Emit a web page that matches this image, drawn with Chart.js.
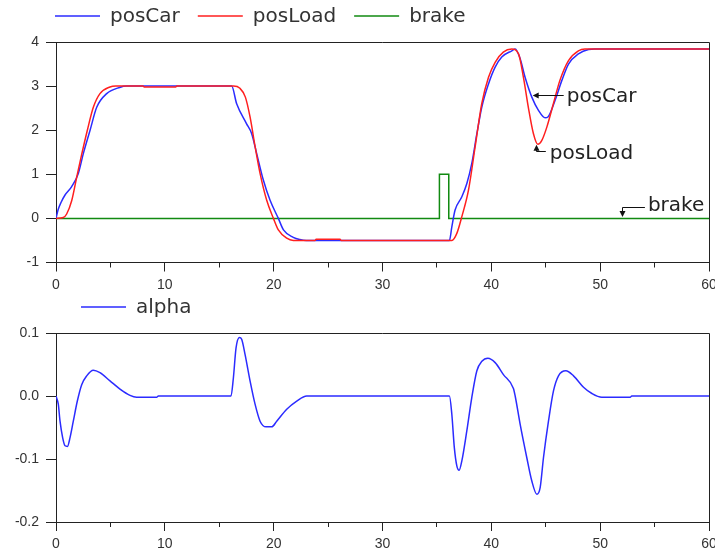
<!DOCTYPE html>
<html><head><meta charset="utf-8">
<script src="https://cdn.jsdelivr.net/npm/chart.js@4"></script>
<style>
html,body{margin:0;padding:0;background:#fff;overflow:hidden}
canvas{position:absolute;left:0;display:block}
#c1{top:0}
#c2{top:293px}
</style></head><body>
<canvas id="c1" width="715" height="293" style="width:715px;height:293px"></canvas>
<canvas id="c2" width="715" height="264" style="width:715px;height:264px"></canvas>
<script>
// ---------- DATA ----------
const tCar   = [0,0.2,0.46,0.83,1.44,2.05,2.51,3.13,3.74,4.66,5.85,6.5,16.14,16.6,17.5,17.98,18.44,19.05,19.67,20.43,20.9,21.8,22.4,23.0,36.15,36.37,36.67,37.29,37.75,38.2,38.67,39.12,39.74,40.35,40.96,41.88,42.19,42.65,43.1,43.72,44.33,44.94,45.2,45.86,46.48,47.09,48.0,48.93,49.5,60];
const posCar = [0,0.2,0.36,0.53,0.72,1.02,1.47,2.0,2.52,2.83,2.97,3.0,3.0,2.6,2.15,1.92,1.47,0.87,0.41,0.0,-0.26,-0.43,-0.48,-0.5,-0.5,-0.19,0.19,0.49,0.79,1.24,1.92,2.52,3.05,3.43,3.66,3.8,3.84,3.62,3.2,2.75,2.45,2.28,2.3,2.68,3.13,3.5,3.73,3.83,3.84,3.84];

const tLoad   = [0,0.67,0.98,1.44,1.9,2.36,2.88,3.43,4.04,4.96,5.5,8.0,8.1,11.0,11.1,16.3,16.9,17.4,17.83,18.3,18.75,19.36,19.98,20.43,21.2,21.8,23.8,23.9,26.1,26.2,36.37,36.83,37.29,37.9,38.51,39.12,39.74,40.35,41.1,41.88,42.5,42.95,43.4,43.87,44.27,44.64,45.1,45.7,46.3,47.09,48.0,48.6,60];
const posLoad = [0,0.02,0.1,0.4,0.93,1.45,2.0,2.52,2.83,2.98,3.0,3.0,2.98,2.98,3.0,3.0,2.95,2.75,2.3,1.62,1.02,0.41,0.0,-0.26,-0.45,-0.5,-0.5,-0.47,-0.47,-0.5,-0.5,-0.34,0.04,0.64,1.62,2.6,3.2,3.54,3.77,3.84,3.73,3.2,2.52,1.92,1.68,1.77,2.07,2.6,3.13,3.58,3.8,3.84,3.84];

const tBrake = [0,35.23,35.23,36.09,36.09,60];
const brake  = [0,0,1,1,0,0];

const tAlpha = [0,0.21,0.37,0.61,0.83,1.05,1.29,1.59,1.96,2.36,2.82,3.43,4.04,4.96,5.88,6.8,7.4,9.25,9.4,16.08,16.3,16.54,16.85,17.06,17.37,17.83,18.29,18.75,19.3,19.82,20.28,21.2,22.12,23.04,36.15,36.37,36.6,36.83,37.04,37.29,37.75,38.2,38.67,39.13,39.68,40.35,41.11,42.03,42.19,42.65,43.26,43.72,44.18,44.49,44.79,45.25,45.71,46.17,46.85,47.55,48.47,49.24,50.15,52.76,52.9,60];
const alpha  = [0,-0.013,-0.04,-0.066,-0.079,-0.08,-0.066,-0.04,-0.008,0.018,0.032,0.041,0.037,0.024,0.011,0.001,-0.002,-0.002,0,0,0.029,0.076,0.093,0.09,0.066,0.024,-0.013,-0.04,-0.049,-0.049,-0.04,-0.021,-0.008,0,0,-0.029,-0.082,-0.111,-0.118,-0.103,-0.055,-0.003,0.04,0.055,0.06,0.053,0.034,0.012,0,-0.045,-0.098,-0.135,-0.156,-0.145,-0.098,-0.04,0.008,0.032,0.04,0.032,0.014,0.004,-0.002,-0.002,0,0];

const xTicks = [0,10,20,30,40,50,60];
const xMinorTicks = [5,15,25,35,45,55];
const topYTicks = [-1,0,1,2,3,4];
const botYTicks = [-0.2,-0.1,0.0,0.1];

const annText = ['posCar','posLoad','brake'];
const annT    = [43.8, 44.18, 52.09];
const annV    = [2.78, 1.67, 0.03];

// ---------- STYLE / HELPERS ----------
const AX = '#222';
const TICKFONT = {family:'Liberation Sans', size:14};
const TXTFONT = '20px "DejaVu Sans"';
const pts = (xs, ys) => xs.map((x,i)=>({x:x, y:ys[i]}));
const al = v => Math.round(v - 0.5) + 0.5;

function xAxis(h){
  return {type:'linear', min:0, max:60,
    afterBuildTicks(s){ s.ticks = xTicks.map(v=>({value:v})); },
    ticks:{font:TICKFONT, color:'#333', padding:5, maxRotation:0, autoSkip:false},
    grid:{drawOnChartArea:false, drawTicks:true, tickLength:9, color:AX},
    border:{color:AX, width:1},
    afterFit(s){ s.height = h; s.paddingLeft = 0; s.paddingRight = 0; }
  };
}
function yAxis(min, max, ticks, fmt){
  return {type:'linear', min:min, max:max,
    afterBuildTicks(s){ s.ticks = ticks.map(v=>({value:v})); },
    ticks:{font:TICKFONT, color:'#333', padding:7, callback:fmt},
    grid:{drawOnChartArea:false, drawTicks:true, tickLength:10, color:AX},
    border:{color:AX, width:1},
    afterFit(s){ s.width = 56; s.paddingTop = 0; s.paddingBottom = 0; }
  };
}

const framePlugin = {
  id:'frame',
  afterDraw(chart){
    const {ctx, chartArea:a, scales} = chart;
    ctx.save();
    ctx.strokeStyle = AX; ctx.lineWidth = 1;
    ctx.beginPath();
    ctx.moveTo(a.left, al(a.top)); ctx.lineTo(al(a.right), al(a.top));
    ctx.lineTo(al(a.right), a.bottom);
    xMinorTicks.forEach(v=>{
      const x = al(scales.x.getPixelForValue(v));
      ctx.moveTo(x, a.bottom); ctx.lineTo(x, a.bottom + 5);
    });
    ctx.stroke();
    // legend
    const lg = chart.options.plugins.customLegend;
    let x = lg.x;
    ctx.font = TXTFONT; ctx.textBaseline = 'middle'; ctx.textAlign = 'left';
    chart.data.datasets.slice().sort((p,q)=>p.legendIndex-q.legendIndex).forEach(ds=>{
      ctx.strokeStyle = ds.borderColor; ctx.lineWidth = 1.5;
      ctx.beginPath(); ctx.moveTo(x, lg.y); ctx.lineTo(x+45, lg.y); ctx.stroke();
      ctx.fillStyle = '#333';
      ctx.fillText(ds.label, x+55, lg.y+1);
      x += 55 + ctx.measureText(ds.label).width + 18;
    });
    ctx.restore();
  }
};

function arrowHead(ctx, x, y, dir){
  ctx.beginPath();
  if (dir==='left'){ ctx.moveTo(x,y); ctx.lineTo(x+6,y-3); ctx.lineTo(x+6,y+3); }
  else if (dir==='up'){ ctx.moveTo(x,y); ctx.lineTo(x-3,y+6); ctx.lineTo(x+3,y+6); }
  else { ctx.moveTo(x,y); ctx.lineTo(x-3,y-6); ctx.lineTo(x+3,y-6); }
  ctx.closePath(); ctx.fill();
}

const annPlugin = {
  id:'ann',
  afterDraw(chart){
    const {ctx, scales} = chart;
    ctx.save();
    ctx.strokeStyle = '#111'; ctx.fillStyle = '#111'; ctx.lineWidth = 1;
    ctx.font = TXTFONT; ctx.textBaseline = 'middle'; ctx.textAlign = 'left';
    annText.forEach((txt,i)=>{
      const px = scales.x.getPixelForValue(annT[i]);
      const py = scales.y.getPixelForValue(annV[i]);
      if (i===0){
        ctx.beginPath(); ctx.moveTo(px+3, al(py)); ctx.lineTo(px+31, al(py)); ctx.stroke();
        arrowHead(ctx, px, al(py), 'left');
        ctx.fillStyle='#222'; ctx.fillText(txt, px+34, py+1); ctx.fillStyle='#111';
      } else if (i===1){
        ctx.beginPath(); ctx.moveTo(al(px), py+4); ctx.lineTo(al(px), al(py+7)); ctx.lineTo(px+9, al(py+7)); ctx.stroke();
        arrowHead(ctx, al(px), py, 'up');
        ctx.fillStyle='#222'; ctx.fillText(txt, px+13, py+9); ctx.fillStyle='#111';
      } else {
        ctx.beginPath(); ctx.moveTo(al(px), py-4); ctx.lineTo(al(px), al(py-10)); ctx.lineTo(px+22, al(py-10)); ctx.stroke();
        arrowHead(ctx, al(px), py, 'down');
        ctx.fillStyle='#222'; ctx.fillText(txt, px+25, py-11); ctx.fillStyle='#111';
      }
    });
    ctx.restore();
  }
};

const lineDs = (label, xs, ys, color, order, li, mono) => ({
  label:label, data:pts(xs,ys), borderColor:color, backgroundColor:color,
  borderWidth:1.5, pointRadius:0, fill:false, order:order, legendIndex:li,
  cubicInterpolationMode: mono ? 'monotone' : 'default', tension:0
});

new Chart(document.getElementById('c1'), {
  type:'line',
  data:{datasets:[
    lineDs('posCar', tCar, posCar, '#2b2bff', 1, 0, true),
    lineDs('posLoad', tLoad, posLoad, '#ff1f1f', 0, 1, true),
    lineDs('brake', tBrake, brake, '#118a11', 2, 2, false)
  ]},
  options:{
    responsive:false, animation:false, devicePixelRatio:1,
    layout:{padding:{top:42, right:6, left:0, bottom:0}},
    plugins:{legend:{display:false}, tooltip:{enabled:false}, customLegend:{x:55, y:16}},
    scales:{x:xAxis(30.5), y:yAxis(-1,4,topYTicks, v=>String(v))}
  },
  plugins:[framePlugin, annPlugin]
});

new Chart(document.getElementById('c2'), {
  type:'line',
  data:{datasets:[
    lineDs('alpha', tAlpha, alpha, '#2b2bff', 0, 0, true)
  ]},
  options:{
    responsive:false, animation:false, devicePixelRatio:1,
    layout:{padding:{top:40, right:6, left:0, bottom:0}},
    plugins:{legend:{display:false}, tooltip:{enabled:false}, customLegend:{x:81, y:14}},
    scales:{x:xAxis(35), y:yAxis(-0.2,0.1,botYTicks, v=>(Math.round(v*10)/10).toFixed(1))}
  },
  plugins:[framePlugin]
});
</script>
</body></html>
